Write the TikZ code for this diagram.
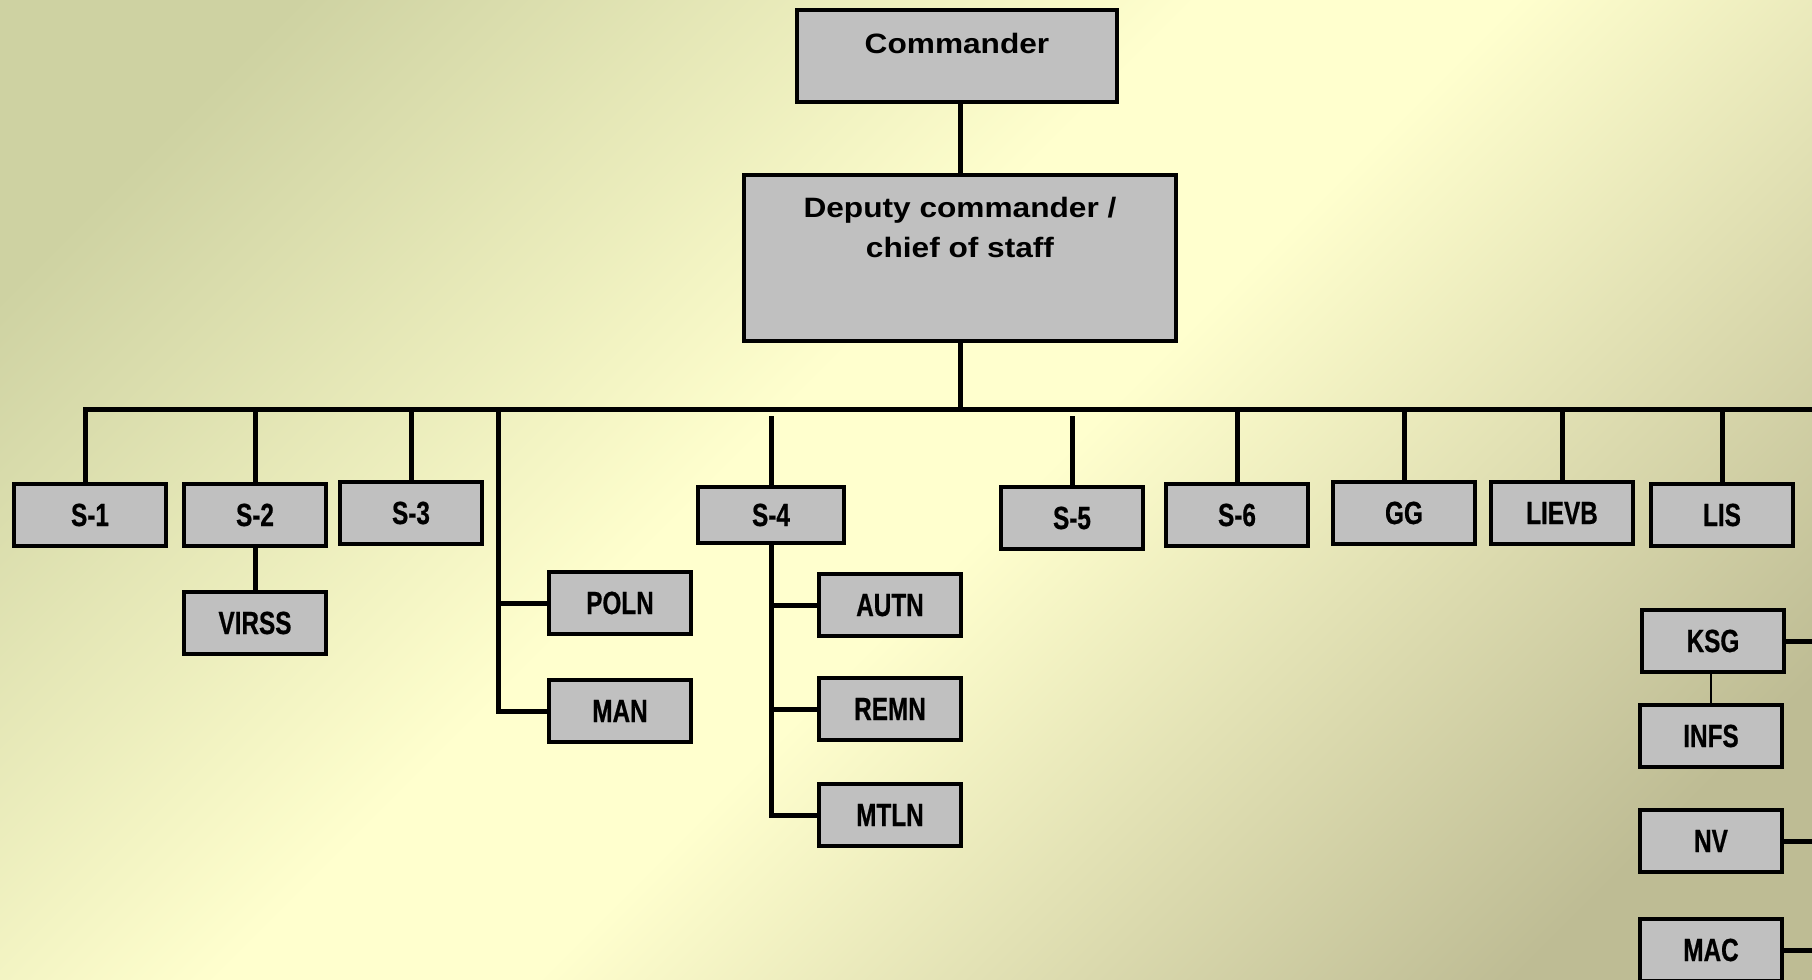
\documentclass[tikz,border=0pt]{standalone}
\usepackage{fontspec}
\setmainfont{Liberation Sans}
\newfontfamily\headfont[FakeStretch=1.13]{Liberation Sans}
\newfontfamily\unitfont[FakeStretch=0.76,FakeBold=0.6]{Liberation Sans}
\usepackage{tikz}
\usetikzlibrary{calc}

\definecolor{boxgray}{RGB}{192,192,192}
\definecolor{bgtl}{RGB}{206,210,162}
\definecolor{bgbr}{RGB}{190,188,148}
\definecolor{bglight}{RGB}{255,255,206}
\pgfdeclareverticalshading{bgshade}{100bp}{color(0bp)=(bgbr); color(22bp)=(bgbr); color(47bp)=(bglight); color(55bp)=(bglight); color(78bp)=(bgtl); color(100bp)=(bgtl)}

\tikzset{
  headbox/.style={draw=black, line width=2.3pt, fill=boxgray, inner sep=0pt, align=center,
    font=\headfont\bfseries\fontsize{14}{20}\selectfont},
  unitbox/.style={draw=black, line width=2.3pt, fill=boxgray, inner sep=0pt,
    minimum width=71pt, minimum height=31pt,
    font=\unitfont\bfseries\fontsize{16}{18}\selectfont, text height=11pt, text depth=0pt},
  link/.style={line width=2.5pt},
  thinlink/.style={line width=1pt}
}

\begin{document}
\begin{tikzpicture}[x=0.5pt,y=-0.5pt]
\shade[shading=bgshade, shading angle=45] (0,0) rectangle (1812,980);
\useasboundingbox (0,0) rectangle (1812,980);

\node[headbox, minimum width=160pt, minimum height=46pt, text height=10pt, text depth=13pt] (cmd) at (957,56) {Commander};
\node[headbox, minimum width=216pt, minimum height=83pt, text height=30pt, text depth=31pt] (dep) at (960,258) {Deputy commander /\\chief of staff};

\node[unitbox, minimum width=76pt] (s1) at (90,515) {S-1};
\node[unitbox] (s2) at (255,515) {S-2};
\node[unitbox] (s3) at (411,513) {S-3};
\node[unitbox] (virss) at (255,623) {VIRSS};
\node[unitbox] (poln) at (620,603) {POLN};
\node[unitbox] (man) at (620,711) {MAN};
\node[unitbox, minimum width=73pt, minimum height=28pt] (s4) at (771,515) {S-4};
\node[unitbox] (autn) at (890,605) {AUTN};
\node[unitbox] (remn) at (890,709) {REMN};
\node[unitbox] (mtln) at (890,815) {MTLN};
\node[unitbox] (s5) at (1072,518) {S-5};
\node[unitbox] (s6) at (1237,515) {S-6};
\node[unitbox] (gg) at (1404,513) {GG};
\node[unitbox] (lievb) at (1562,513) {LIEVB};
\node[unitbox] (lis) at (1722,515) {LIS};
\node[unitbox] (ksg) at (1713,641) {KSG};
\node[unitbox] (infs) at (1711,736) {INFS};
\node[unitbox] (nv) at (1711,841) {NV};
\node[unitbox] (mac) at (1711,950) {MAC};

\coordinate (busL) at (85,409);
\coordinate (busR) at (1812,409);
\coordinate (polspine) at (498,409);

\draw[link] (dep.north |- cmd.south) -- (dep.north);
\draw[link] (busL |- s1.north) -- (busL) -- (busR);
\draw[link, shorten >=-1.5pt] (dep.south) -- (dep.south |- busL);
\foreach \u in {s2,s3,s6,gg,lievb,lis}
  \draw[link] (\u.north) -- (\u.north |- busL);
\foreach \u in {s4,s5}
  \draw[link, shorten >=3.5pt] (\u.north) -- (\u.north |- busL);
\draw[link] (s2.south) -- (virss.north);
\draw[link] (polspine) |- (man.west);
\draw[link] (poln.west) -- (poln.west -| polspine);
\draw[link] (s4.south) |- (mtln.west);
\foreach \u in {autn,remn}
  \draw[link] (\u.west) -- (\u.west -| s4.south);
\foreach \u in {ksg,nv,mac}
  \draw[link] (\u.east) -- (\u.east -| busR);
\draw[thinlink] (infs.north |- ksg.south) -- (infs.north);
\end{tikzpicture}
\end{document}
